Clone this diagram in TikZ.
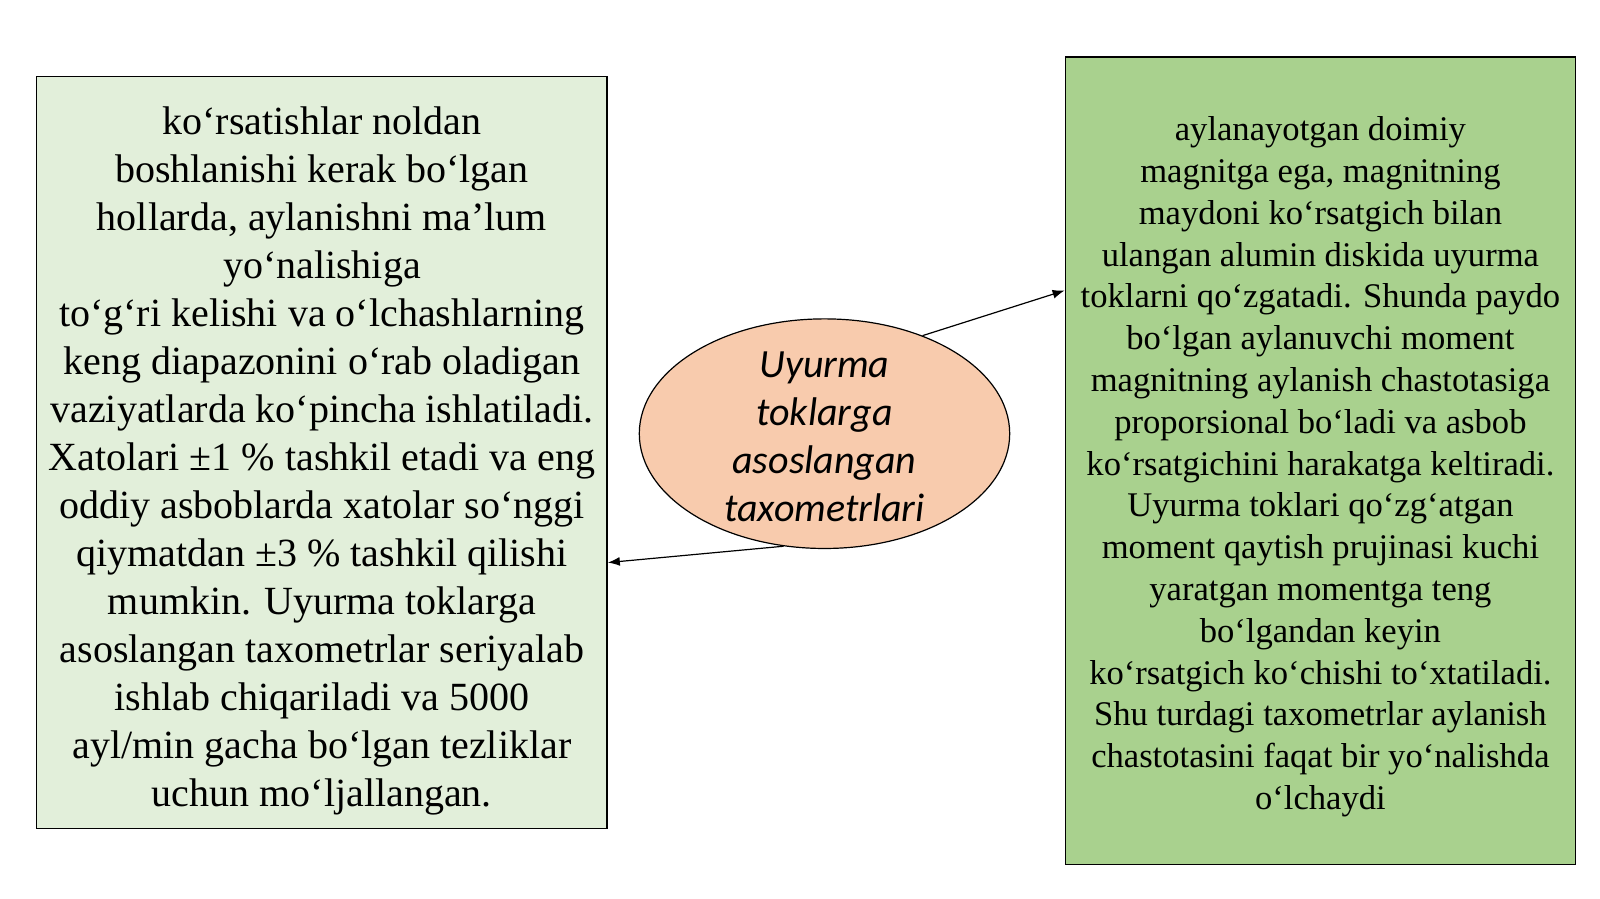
\documentclass[tikz,border=0pt]{standalone}
\usepackage{fontspec}
\setmainfont{Liberation Serif}
\newfontfamily\calib{Carlito}
\usetikzlibrary{arrows.meta,calc,shapes.geometric}
\definecolor{lgreen}{HTML}{E2EFDA}
\definecolor{mgreen}{HTML}{A9D18E}
\definecolor{peach}{HTML}{F8CBAD}
\tikzset{
  textbox/.style={draw=black,line width=0.7pt,inner sep=0pt},
  boxtext/.style={inner sep=0pt,align=center},
  conn/.style={line width=0.6pt,-{Latex[length=6pt,width=4.5pt]}}
}
\begin{document}
\begin{tikzpicture}[x=0.5102pt,y=-0.5102pt]
\useasboundingbox[fill=white] (0,0) rectangle (1568,881);
\node[textbox,fill=lgreen,minimum width=285.2pt,minimum height=376pt] (lbox) at (315.5,443.5) {};
\node[boxtext,font=\fontsize{20pt}{24pt}\selectfont] (ltext) at ($(lbox.center)+(0,8)$)
 {ko‘rsatishlar noldan\\
  boshlanishi kerak bo‘lgan\\
  hollarda, aylanishni ma’lum\\
  yo‘nalishiga\\
  to‘g‘ri kelishi va o‘lchashlarning\\
  keng diapazonini o‘rab oladigan\\
  vaziyatlarda ko‘pincha ishlatiladi.\\
  Xatolari ±1 \% tashkil etadi va eng\\
  oddiy asboblarda xatolar so‘nggi\\
  qiymatdan ±3 \% tashkil qilishi\\
  mumkin. Uyurma toklarga\\
  asoslangan taxometrlar seriyalab\\
  ishlab chiqariladi va 5000\\
  ayl/min gacha bo‘lgan tezliklar\\
  uchun mo‘ljallangan.};
\node[textbox,fill=mgreen,minimum width=255.1pt,minimum height=403.6pt] (rbox) at (1294,451.5) {};
\node[boxtext,font=\fontsize{17.3pt}{20.9pt}\selectfont] (rtext) at ($(rbox.center)+(0,6)$)
 {aylanayotgan doimiy\\
  magnitga ega, magnitning\\
  maydoni ko‘rsatgich bilan\\
  ulangan alumin diskida uyurma\\
  toklarni qo‘zgatadi. Shunda paydo\\
  bo‘lgan aylanuvchi moment\\
  magnitning aylanish chastotasiga\\
  proporsional bo‘ladi va asbob\\
  ko‘rsatgichini harakatga keltiradi.\\
  Uyurma toklari qo‘zg‘atgan\\
  moment qaytish prujinasi kuchi\\
  yaratgan momentga teng\\
  bo‘lgandan keyin\\
  ko‘rsatgich ko‘chishi to‘xtatiladi.\\
  Shu turdagi taxometrlar aylanish\\
  chastotasini faqat bir yo‘nalishda\\
  o‘lchaydi};
\node[ellipse,draw=black,line width=0.6pt,fill=peach,inner sep=0pt,
  minimum width=185.2pt,minimum height=114.8pt] (ell) at (808,425) {};
\node[boxtext,font=\calib\itshape\fontsize{20pt}{24pt}\selectfont] (etext) at ($(ell.center)+(0,3)$)
 {Uyurma\\toklarga\\asoslangan\\taxometrlari};
\draw[conn] (ell.45) -- ($(rbox.north west)!0.2895!(rbox.south west)$);
\draw[conn] (ell.250) -- ($(lbox.north east)!0.646!(lbox.south east)$);
\end{tikzpicture}
\end{document}
